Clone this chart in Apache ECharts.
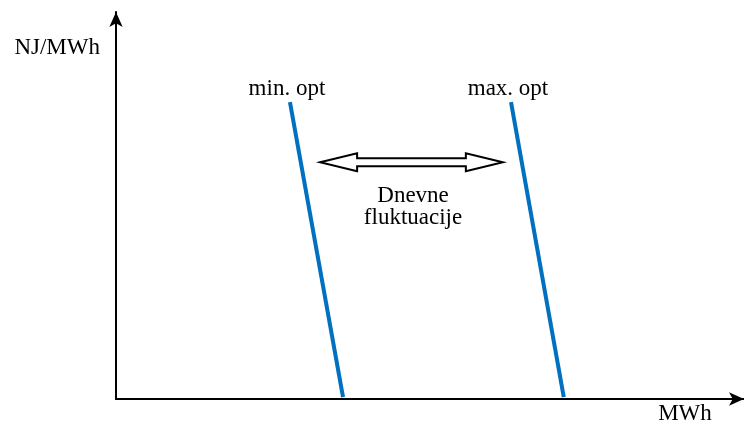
<!DOCTYPE html>
<html>
<head>
<meta charset="utf-8">
<script src="https://cdn.jsdelivr.net/npm/echarts@6/dist/echarts.min.js"></script>
<style>
  html, body { margin: 0; padding: 0; background: #fff; }
  #chart { width: 744px; height: 429px; }
</style>
</head>
<body>
<div id="chart"></div>
<script>
// lines: [x, y] at top and at bottom (axis units 0..100)
const minOpt = [[27.7, 76.7], [36.15, 0.5]];
const maxOpt = [[62.9, 76.7], [71.3, 0.5]];
const lineNames = ["min. opt", "max. opt"];

// double arrow: x from, x to, y
const arrowFrom = 32.5;
const arrowTo = 61.6;
const arrowY = 61.2;

// note under the arrow
const notePos = [47.3, 49.6];
const noteText = "Dnevne\nfluktuacije";

const axisNames = { x: "MWh", y: "NJ/MWh" };

const font = "Liberation Serif";
const blue = "#0070C0";

const chart = echarts.init(document.getElementById("chart"));

function lineSeries(name, pts) {
  return {
    type: "line",
    name: name,
    data: pts,
    symbol: "none",
    lineStyle: { color: blue, width: 4, cap: "butt" },
    label: { show: false },
    markPoint: {
      symbol: "circle",
      symbolSize: 0,
      data: [{ coord: pts[0], value: name }],
      label: {
        show: true,
        position: "top",
        distance: 2,
        offset: [-3, 0],
        formatter: name,
        fontFamily: font,
        fontSize: 23,
        color: "#000"
      }
    },
    silent: true
  };
}

chart.setOption({
  animation: false,
  grid: { left: 116, right: 0, top: 12, bottom: 30 },
  xAxis: {
    type: "value",
    min: 0,
    max: 100,
    name: axisNames.x,
    nameLocation: "end",
    nameGap: -59,
    nameTextStyle: {
      fontFamily: font, fontSize: 23, color: "#000",
      align: "center", verticalAlign: "top", padding: [3, 0, 0, 0]
    },
    axisLine: {
      onZero: false,
      symbol: ["none", "arrow"],
      symbolSize: [10, 15],
      lineStyle: { color: "#000", width: 2 }
    },
    axisTick: { show: false },
    axisLabel: { show: false },
    splitLine: { show: false }
  },
  yAxis: {
    type: "value",
    min: 0,
    max: 100,
    name: axisNames.y,
    nameLocation: "end",
    nameGap: -36,
    nameTextStyle: {
      fontFamily: font, fontSize: 23, color: "#000",
      align: "right", verticalAlign: "middle", padding: [0, 16, 0, 0]
    },
    axisLine: {
      onZero: false,
      symbol: ["none", "arrow"],
      symbolSize: [10, 15],
      lineStyle: { color: "#000", width: 2 }
    },
    axisTick: { show: false },
    axisLabel: { show: false },
    splitLine: { show: false }
  },
  series: [
    lineSeries(lineNames[0], minOpt),
    lineSeries(lineNames[1], maxOpt),
    {
      type: "custom",
      silent: true,
      data: [[arrowFrom, arrowY, arrowTo]],
      renderItem: function (params, api) {
        const a = api.coord([api.value(0), api.value(1)]);
        const b = api.coord([api.value(2), api.value(1)]);
        const y = a[1];
        const head = 37, hh = 9, sh = 4;
        const pts = [
          [a[0], y],
          [a[0] + head, y - hh],
          [a[0] + head, y - sh],
          [b[0] - head, y - sh],
          [b[0] - head, y - hh],
          [b[0], y],
          [b[0] - head, y + hh],
          [b[0] - head, y + sh],
          [a[0] + head, y + sh],
          [a[0] + head, y + hh]
        ];
        return {
          type: "polygon",
          shape: { points: pts },
          style: { fill: "#fff", stroke: "#000", lineWidth: 2 }
        };
      }
    },
    {
      type: "scatter",
      silent: true,
      symbolSize: 0,
      itemStyle: { opacity: 1 },
      data: [notePos],
      label: {
        show: true,
        position: "inside",
        formatter: noteText,
        fontFamily: font,
        fontSize: 23,
        lineHeight: 22,
        color: "#000"
      }
    }
  ]
});
</script>
</body>
</html>
